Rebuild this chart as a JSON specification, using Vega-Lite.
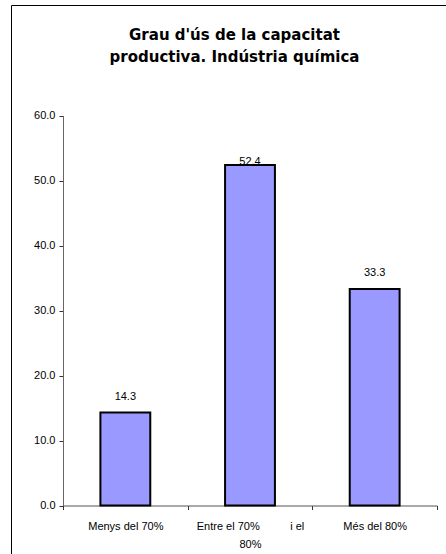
{
  "$schema": "https://vega.github.io/schema/vega-lite/v6.json",
  "autosize": "none",
  "padding": {"left": 11, "top": 5, "right": 0, "bottom": 0},
  "width": 435,
  "height": 549,
  "background": "white",
  "config": {"view": {"stroke": "black", "strokeWidth": 1}},
  "title": {
    "text": ["Grau d'ús de la capacitat", "productiva. Indústria química"],
    "font": "DejaVu Sans",
    "fontSize": 15,
    "fontWeight": "bold",
    "color": "black",
    "anchor": "middle",
    "frame": "group",
    "offset": -60,
    "dx": 6,
    "lineHeight": 22
  },
  "data": {
    "values": [
      {"cat": "Menys del 70%", "v": 14.3},
      {"cat": "Entre el 70% i el 80%", "v": 52.4},
      {"cat": "Més del 80%", "v": 33.3}
    ]
  },
  "encoding": {
    "x": {
      "field": "cat",
      "type": "nominal",
      "sort": null,
      "scale": {"range": [52, 426], "paddingInner": 0, "paddingOuter": 0},
      "axis": {
        "title": null,
        "orient": "bottom",
        "offset": -48.5,
        "tickBand": "extent",
        "labelAngle": 0,
        "tickSize": 4,
        "labelPadding": 11,
        "labelFont": "Liberation Sans",
        "labelFontSize": 11,
        "labelColor": "black",
        "labelLineHeight": 18,
        "labelLimit": 0,
        "labelExpr": "datum.label == 'Entre el 70% i el 80%' ? ['Entre el 70%\u00a0\u00a0\u00a0\u00a0\u00a0\u00a0\u00a0\u00a0\u00a0\u00a0i el', '80%'] : datum.label",
        "domainColor": "#555",
        "tickColor": "#333"
      }
    },
    "y": {
      "field": "v",
      "type": "quantitative",
      "scale": {"domain": [0, 60], "range": [500.5, 110.5], "nice": false, "zero": true},
      "axis": {
        "title": null,
        "orient": "left",
        "offset": -52,
        "values": [0, 10, 20, 30, 40, 50, 60],
        "format": ".1f",
        "grid": false,
        "tickSize": 4,
        "labelPadding": 4,
        "labelFont": "Liberation Sans",
        "labelFontSize": 11,
        "labelColor": "black",
        "domainColor": "#666",
        "tickColor": "#333"
      }
    }
  },
  "layer": [
    {"mark": {"type": "bar", "width": {"band": 0.4}, "fill": "#9999FF", "stroke": "black", "strokeWidth": 2}},
    {
      "transform": [{"filter": "datum.v < 50"}],
      "mark": {"type": "text", "dy": -16, "font": "Liberation Sans", "fontSize": 11, "color": "black"},
      "encoding": {"text": {"field": "v", "type": "quantitative", "format": ".1f"}}
    },
    {
      "transform": [{"filter": "datum.v >= 50"}],
      "mark": {"type": "text", "dy": -3, "font": "Liberation Sans", "fontSize": 11, "color": "black"},
      "encoding": {"text": {"field": "v", "type": "quantitative", "format": ".1f"}}
    }
  ]
}
